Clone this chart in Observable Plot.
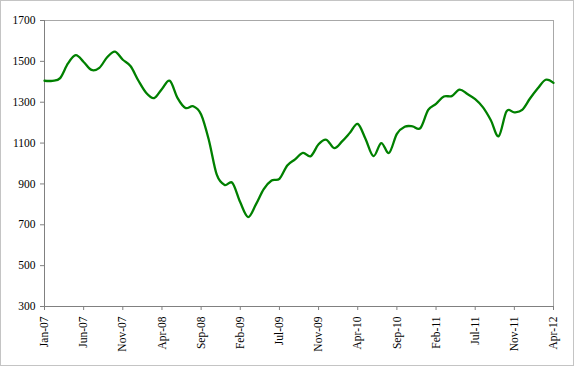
<!DOCTYPE html>
<html>
<head>
<meta charset="utf-8">
<script src="https://cdn.jsdelivr.net/npm/d3@7"></script>
<script src="https://cdn.jsdelivr.net/npm/@observablehq/plot@0.6"></script>
<style>
  html, body { margin: 0; padding: 0; background: #fff; }
  #wrap { position: relative; width: 574px; height: 366px; }
  #border { position: absolute; left: 0; top: 0; width: 572px; height: 364px; border: 1px solid #c4c4c4; pointer-events: none; }
  svg { display: block; }
</style>
</head>
<body>
<div id="wrap"><div id="border"></div></div>
<script>
// Series values, one per category (first = Jan-07, last = Apr-12)
const values = [
  1405, 1405, 1418, 1490, 1530, 1497, 1458, 1468, 1520, 1548,
  1508, 1476, 1405, 1345, 1320, 1365, 1405, 1320, 1272, 1280,
  1240, 1113, 945, 895, 905, 810, 738, 800, 875, 917,
  925, 990, 1020, 1052, 1036, 1094, 1116, 1075, 1108, 1150,
  1194, 1120, 1036, 1100, 1052, 1145, 1180, 1182, 1173, 1262,
  1292, 1328, 1330, 1362, 1340, 1315, 1275, 1212, 1133, 1255,
  1250, 1262, 1318, 1368, 1410, 1395
];
const tickLabels = ["Jan-07","Jun-07","Nov-07","Apr-08","Sep-08","Feb-09","Jul-09","Nov-09","Apr-10","Sep-10","Feb-11","Jul-11","Nov-11","Apr-12"];
const yTicks = [300, 500, 700, 900, 1100, 1300, 1500, 1700];
const labelStep = 5;

const data = values.map((v, i) => ({i, v}));
const lastIndex = values.length - 1;
const xTicks = tickLabels.map((_, k) => k * labelStep);
const tickMap = new Map(xTicks.map((t, k) => [t, tickLabels[k]]));

const chart = Plot.plot({
  width: 574,
  height: 366,
  marginLeft: 44,
  marginTop: 20,
  marginRight: 21,
  marginBottom: 60,
  style: {fontFamily: "'Liberation Serif', 'Times New Roman', serif", fontSize: "11.5px", color: "#000", background: "#fff"},
  x: {domain: [0, lastIndex]},
  y: {domain: [300, 1700]},
  marks: [
    Plot.frame({stroke: "#a8a8a8"}),
    Plot.axisY({ticks: yTicks, tickSize: 4, tickPadding: 5, label: null, tickFormat: d => String(d), stroke: "#808080", fill: "#000"}),
    Plot.axisX({ticks: xTicks, tickSize: 4, tickPadding: 6, tickRotate: -90, label: null, tickFormat: d => tickMap.get(d), stroke: "#808080", fill: "#000"}),
    Plot.ruleX([0], {stroke: "#808080"}),
    Plot.ruleY([300], {stroke: "#808080"}),
    Plot.line(data, {x: "i", y: "v", stroke: "#008000", strokeWidth: 2.3, curve: "cardinal"})
  ]
});
document.getElementById("wrap").prepend(chart);
</script>
</body>
</html>
